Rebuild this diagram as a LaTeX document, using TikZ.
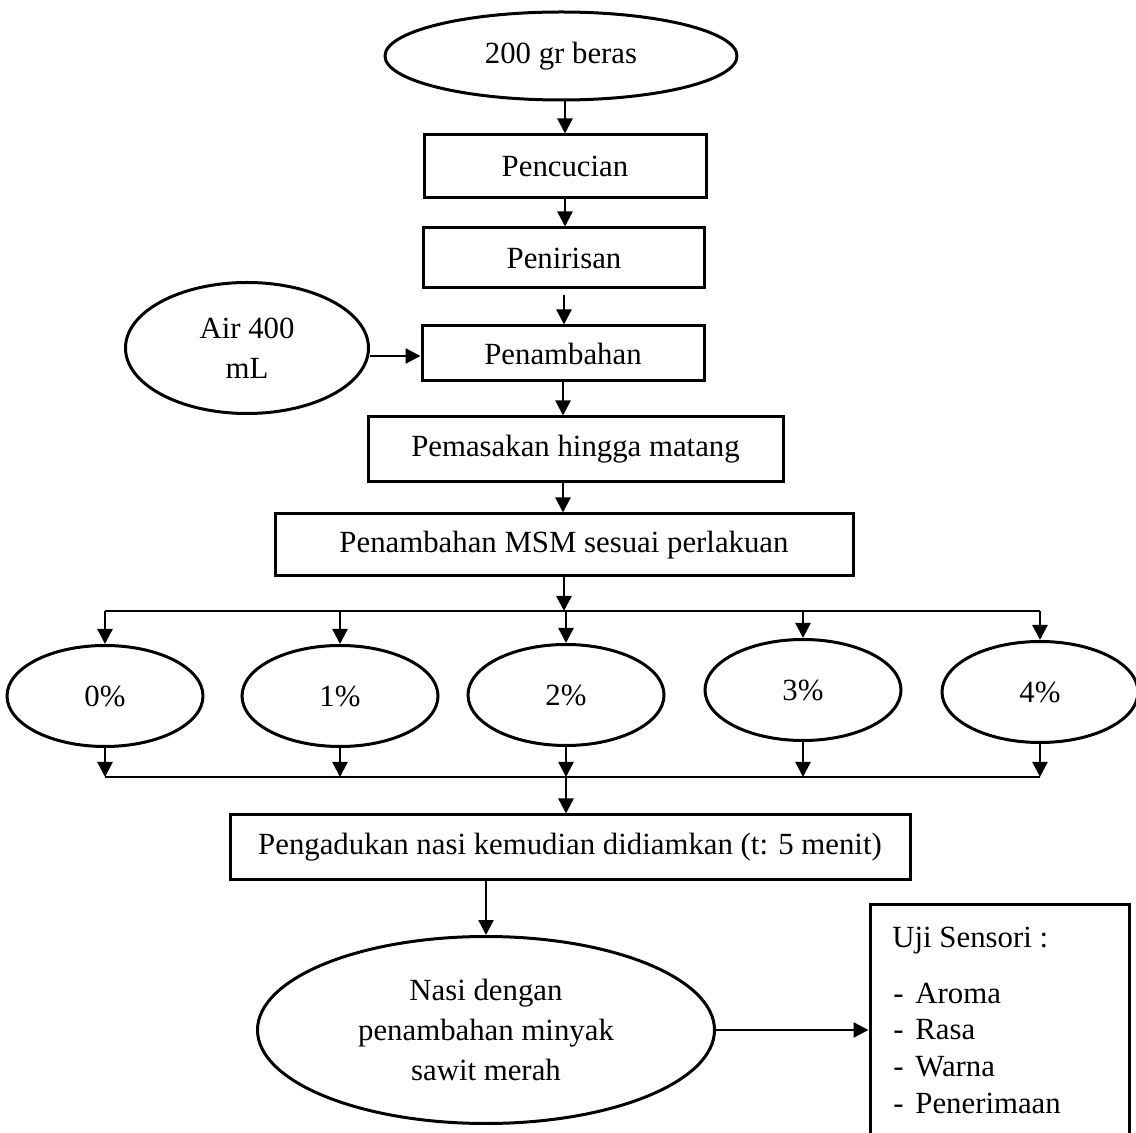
\documentclass[tikz,border=0pt]{standalone}
\usepackage{fontspec}
\setmainfont{Liberation Serif}
\usepackage{tikz}
\usetikzlibrary{arrows.meta,shapes.geometric}

\begin{document}
\begin{tikzpicture}[x=0.5pt,y=-0.5pt,
    every node/.style={font=\fontsize{15.4}{20}\selectfont,inner sep=0pt},
    kotak/.style={draw,line width=1.5pt,rectangle,align=center},
    oval/.style={draw,line width=1.5pt,ellipse,align=center},
    arr/.style={-{Triangle[length=7.5pt,width=7.5pt]},line width=1.2pt},
    garis/.style={line width=0.7pt}]
  \useasboundingbox (0,0) rectangle (1136,1133);

  % alur utama
  \node[oval,minimum width=176pt,minimum height=44pt] (beras) at (561,56) {200 gr beras};
  \node[kotak,minimum width=141pt,minimum height=31.5pt] (cuci) at (565,166.5) {Pencucian};
  \node[kotak,minimum width=140.5pt,minimum height=30pt] (tiris) at (564,258) {Penirisan};
  \node[kotak,minimum width=141pt,minimum height=27.5pt] (tambah) at (563,353.5) {Penambahan};
  \node[oval,minimum width=121.5pt,minimum height=65.5pt] (air) at (247,348) {Air 400\\mL};
  \node[kotak,minimum width=207.5pt,minimum height=32.5pt] (masak) at (575.5,449.5) {Pemasakan hingga matang};
  \node[kotak,minimum width=289pt,minimum height=31pt] (msm) at (564,545) {Penambahan MSM sesuai perlakuan};

  \draw[arr] (cuci.north |- beras.south) -- (cuci.north);
  \draw[arr] (cuci.south) -- (cuci.south |- tiris.north);
  \draw[arr] ([yshift=-3pt]tiris.south) -- (tiris.south |- tambah.north);
  \draw[arr] ([yshift=-4pt]air.east) -- ([yshift=-4pt]air.east -| tambah.west);
  \draw[arr] (tambah.south) -- (tambah.south |- masak.north);
  \draw[arr] (tambah.south |- masak.south) -- (tambah.south |- msm.north);

  % perlakuan
  \coordinate (bagiL) at (105,611);
  \coordinate (bagiR) at (1040,611);
  \coordinate (gabungL) at (105,777);
  \coordinate (gabungR) at (1040,777);
  \draw[garis] (bagiL) -- (bagiR);
  \draw[garis] (gabungL) -- (gabungR);
  \draw[arr] (msm.south) -- (msm.south |- bagiL);

  \foreach \n/\x/\y/\t in {p0/105/696/0, p1/340/696/1, p2/566/695/2, p3/803/690/3, p4/1040/692/4}{
    \node[oval,minimum width=98pt,minimum height=50.5pt] (\n) at (\x,\y) {\t\%};
    \draw[arr] (\n.north |- bagiL) -- (\n.north);
    \draw[arr] (\n.south) -- (\n.south |- gabungL);
  }

  \node[kotak,minimum width=340pt,minimum height=32pt] (aduk) at (570,847) {Pengadukan nasi kemudian didiamkan (t: 5 menit)};
  \draw[arr] (p2.south |- gabungL) -- (p2.south |- aduk.north);

  \node[oval,minimum width=228.5pt,minimum height=93.5pt] (nasi) at (486,1030) {Nasi dengan\\penambahan minyak\\sawit merah};
  \draw[arr] (nasi.north |- aduk.south) -- (nasi.north);

  % uji sensori
  \node[kotak,minimum width=129.5pt,minimum height=123pt] (uji) at (999.5,1027) {};
  \draw[arr] (nasi.east) -- (nasi.east -| uji.west);
  \node[anchor=base west] (ujijudul) at (892,947) {Uji Sensori :};
  \foreach \t [count=\i] in {Aroma,Rasa,Warna,Penerimaan}
    \node[anchor=base west] (uji\i) at (893,966.3+36.7*\i) {\makebox[11pt][l]{-}\t};
\end{tikzpicture}
\end{document}
